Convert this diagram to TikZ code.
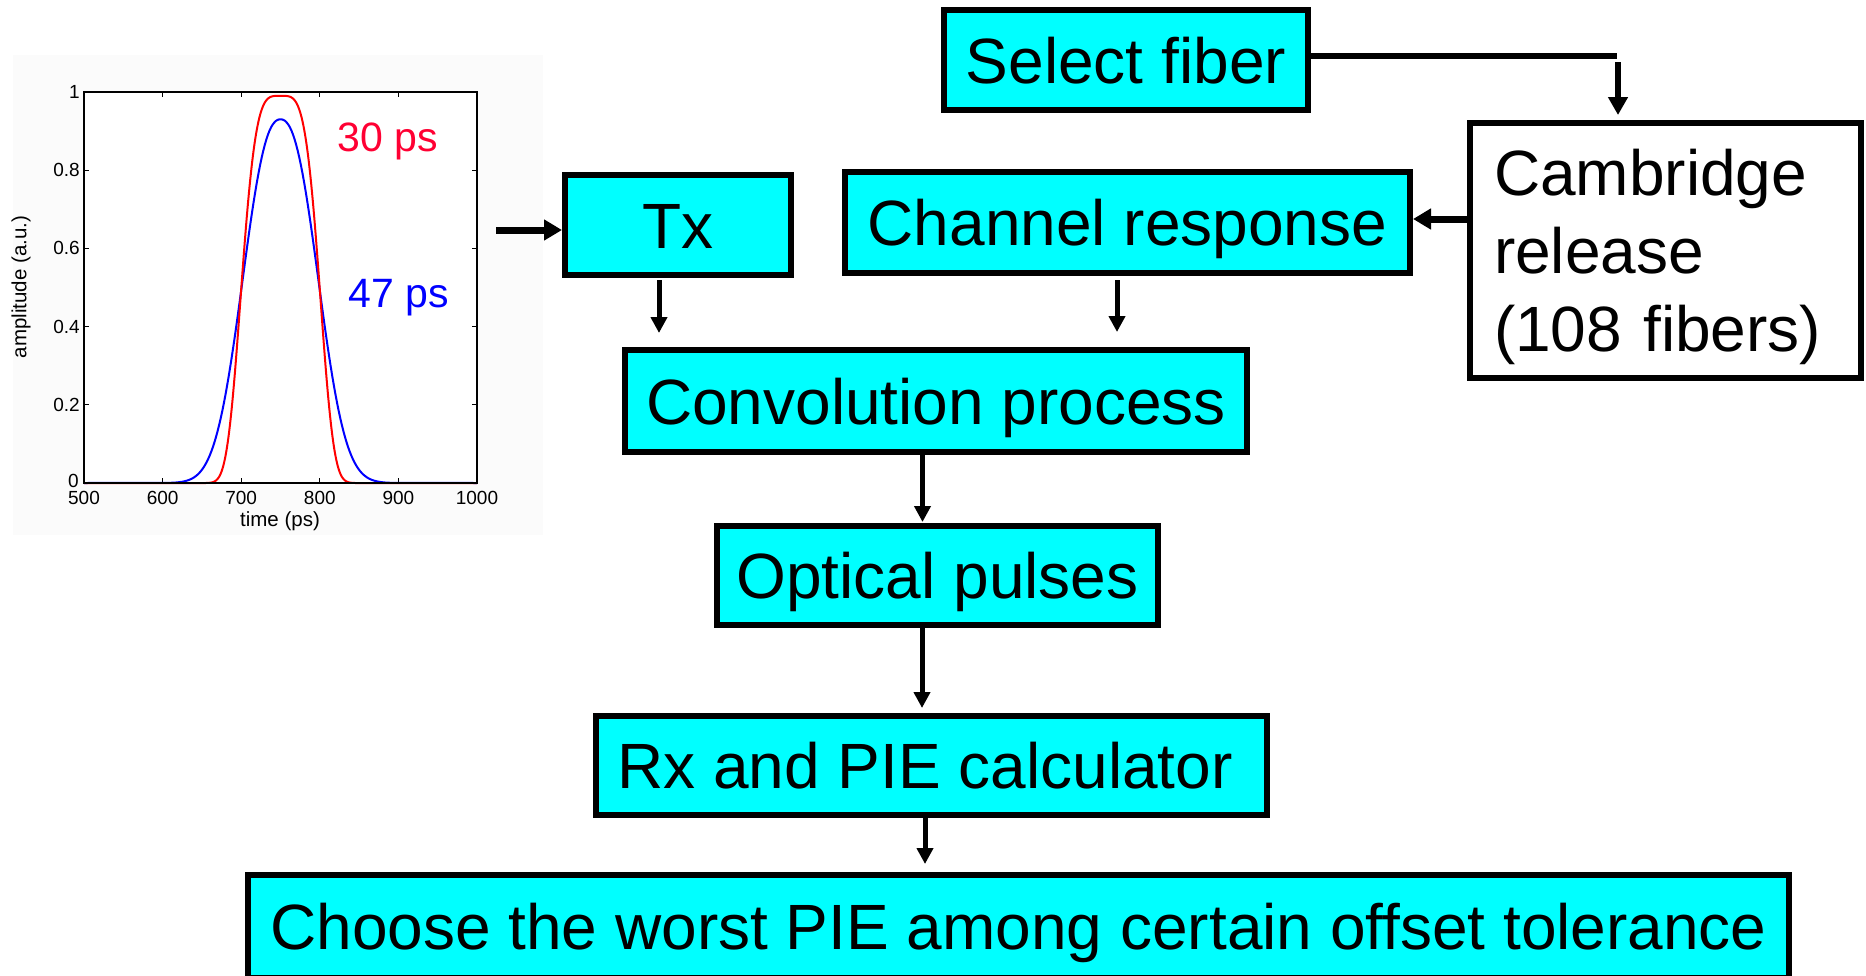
\documentclass[tikz,border=0pt]{standalone}
\usepackage{fontspec}
\setmainfont{Liberation Sans}
\usetikzlibrary{arrows.meta}
\definecolor{boxcyan}{RGB}{0,255,255}
\definecolor{txtred}{RGB}{255,0,51}
\begin{document}
\begin{tikzpicture}[x=1pt,y=-1pt,
  box/.style={draw=black, line width=6pt, fill=boxcyan, inner sep=0pt,
    font=\fontsize{64}{78}\selectfont, text height=46pt, text depth=0pt},
  thickarrow/.style={line width=7pt, -{Triangle[length=18pt,width=20pt]}},
  midarrow/.style={line width=6pt, -{Triangle[length=18pt,width=19pt]}},
  thinarrow/.style={line width=5pt, -{Triangle[length=16pt,width=16pt]}},
  ticklabel/.style={font=\fontsize{19}{22}\selectfont, inner sep=0pt},
  axlabel/.style={font=\fontsize{20.5}{24}\selectfont, inner sep=0pt},
  pslabel/.style={font=\fontsize{41}{48}\selectfont, inner sep=0pt, text height=29pt, text depth=0pt},
  curve/.style={line width=2pt, line join=round}
]
\useasboundingbox (0,0) rectangle (1866,975);

% ---------- plot ----------
\fill[black!1.5] (13,55) rectangle (543,535);
\fill[white] (84,92) rectangle (477,483);
\foreach \t in {500,600,...,1000}{
  \pgfmathsetmacro{\px}{84+(\t-500)*0.786}
  \draw[line width=1pt] (\px,483) -- ++(0,-5);
  \draw[line width=1pt] (\px,92) -- ++(0,5);
  \node[ticklabel, anchor=north] (xt\t) at (\px,491) {\t};
}
\foreach \a/\lab in {0.2/0.2,0.4/0.4,0.6/0.6,0.8/0.8,1/1}{
  \pgfmathsetmacro{\py}{483-391*\a}
  \draw[line width=1pt] (84,\py) -- ++(5,0);
  \draw[line width=1pt] (477,\py) -- ++(-5,0);
  \node[ticklabel, anchor=east] (yt\lab) at (80,\py) {\lab};
}
\draw[line width=1pt] (84,483) -- ++(5,0);
\draw[line width=1pt] (477,483) -- ++(-5,0);
\node[ticklabel, anchor=east] (yt0) at (79,481) {0};
\draw[blue, curve] (84,483) -- plot[domain=610:890, samples=141]
  ({84+(\x-500)*0.786},{483-391*0.93*exp(-((abs(\x-750)+0.5)/61)^2.4)}) -- (477,483);
\draw[red, curve] (84,483) -- plot[domain=650:850, samples=201]
  ({84+(\x-500)*0.786},{483-391*0.99*exp(-(((\x-750)*(\x-750)/3003)^2))}) -- (477,483);
\draw[line width=1.2pt] (84,92) rectangle (477,483);
\node[axlabel] (xlab) at (280,521) {time (ps)};
\node[axlabel, rotate=90] (ylab) at (21,287) {amplitude (a.u.)};
\node[pslabel, text=txtred] (l30) at (388,137) {30 ps};
\node[pslabel, text=blue] (l47) at (399,293) {47 ps};

% ---------- boxes ----------
\node[box, minimum width=364pt, minimum height=100pt] (sel) at (1126,60) {Select fiber};
\node[box, fill=white, minimum width=391pt, minimum height=255pt,
      align=left, text width=343pt, text depth=156pt] (cam) at (1665.5,250.5)
      {Cambridge\\release\\(108 fibers)};
\node[box, minimum width=226pt, minimum height=100pt] (tx) at (678,225) {Tx};
\node[box, minimum width=565pt, minimum height=101pt] (chan) at (1127.5,222.5) {Channel response};
\node[box, minimum width=622pt, minimum height=102pt] (conv) at (936,401) {Convolution process};
\node[box, minimum width=441pt, minimum height=99pt] (opt) at (937.5,575.5) {Optical pulses};
\node[box, minimum width=671pt, minimum height=99pt] (rx) at (931.5,765.5) {\hspace*{-13pt}Rx and PIE calculator};
\node[box, minimum width=1541pt, minimum height=103pt] (choose) at (1018.5,926.5) {Choose the worst PIE among certain offset tolerance};

% ---------- connectors ----------
\coordinate (in) at (496,230);
\draw[thickarrow] (in) -- (in -| tx.west);

\coordinate (c1) at (1617,56);
\coordinate (c2) at (1618,62);
\draw[line width=6pt] (sel.east |- c1) -- (c1);
\draw[midarrow, shorten >=5pt] (c2) -- (c2 |- cam.north);

\draw[thickarrow] ([yshift=3.5pt]chan.east -| cam.west) -- ([yshift=3.5pt]chan.east);

\draw[thinarrow, shorten >=14pt] ([xshift=-19pt,yshift=-2pt]tx.south) -- ([xshift=-19pt]tx.south |- conv.north);
\draw[thinarrow, shorten >=15pt] ([xshift=-10.5pt,yshift=-4pt]chan.south) -- ([xshift=-10.5pt]chan.south |- conv.north);
\draw[thinarrow, shorten >=1pt] ([xshift=-13.5pt]conv.south) -- ([xshift=-13.5pt]conv.south |- opt.north);
\draw[thinarrow, shorten >=5pt] ([xshift=-15.5pt]opt.south) -- ([xshift=-15.5pt]opt.south |- rx.north);
\draw[thinarrow, shorten >=8pt] ([xshift=-6.5pt,yshift=6pt]rx.south) -- ([xshift=-6.5pt]rx.south |- choose.north);
\end{tikzpicture}
\end{document}
